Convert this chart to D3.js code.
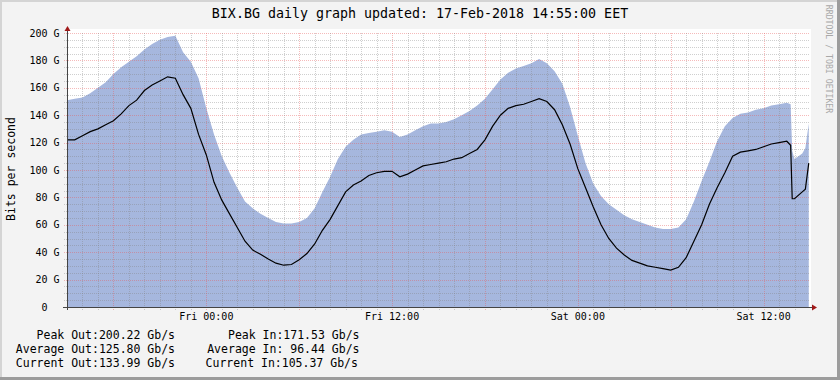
<!DOCTYPE html>
<html><head><meta charset="utf-8">
<script src="https://cdn.jsdelivr.net/npm/d3@7"></script>
<style>
html,body{margin:0;padding:0;background:#f3f3f3;overflow:hidden;}
svg{display:block;}
text{font-family:"DejaVu Sans Mono",monospace;white-space:pre;}
</style></head><body>
<svg id="c" width="840" height="380"></svg>
<script>
// hours since Thu 15:00
const hours = [0,0.5,1,1.5,2,2.5,3,3.5,4,4.5,5,5.5,6,6.5,7,7.5,8,8.5,9,9.5,10,10.5,11,11.5,12,12.5,13,13.5,14,14.5,15,15.5,16,16.5,17,17.5,18,18.5,19,19.5,20,20.5,21,21.5,22,22.5,23,23.5,24,24.5,25,25.5,26,26.5,27,27.5,28,28.5,29,29.5,30,30.5,31,31.5,32,32.5,33,33.5,34,34.5,35,35.5,36,36.5,37,37.5,38,38.5,39,39.5,40,40.5,41,41.5,42,42.5,43,43.5,44,44.5,45,45.5,46,46.5,46.75,46.85,47,47.5,47.7,47.92];
// Out traffic (area), Gb/s
const outG = [151,152,153,156,160,164,170,175,179,183,188,192,195,197,198,186,179,167,145,126,110,98,87,77,72,68,65,62,61,61,62,65,72,84,95,108,117,122,126,127,128,129,128,124,126,129,132,134,134,135,137,140,143,147,152,159,166,171,174,176,178,181,178,172,163,146,125,105,90,81,75,71,67,64,62,60,58,57,57,58,64,77,92,106,121,132,138,141,142,144,145,147,148,149,148,114,108,112,116,134];
// In traffic (line), Gb/s
const inG = [122,122,125,128,130,133,136,141,147,151,158,162,165,168,167,155,145,126,111,91,78,68,58,48,41.5,38.5,35,32,30.5,31,34.5,39,46,56,64,74,84,89,92,96,98,99,99,95,97,100,103,104,105,106,108,109,112,115,122,132,140,145,147,148,150,152,150,144,133,119,101,87,73,60,50,43,38,34,32,30,29,28,27,29,36,48,60,75,87,98,110,113,114,115,117,119,120,121,118,79,79,84,86,105];

const yTickValues = [0,20,40,60,80,100,120,140,160,180,200];
const yTickLabels = ["0  ","20 G","40 G","60 G","80 G","100 G","120 G","140 G","160 G","180 G","200 G"];
const xLabelHours = [9,21,33,45];
const xLabels = ["Fri 00:00","Fri 12:00","Sat 00:00","Sat 12:00"];
const statNames = ["   Peak","Average","Current"];
const outStats = ["200.22","125.80","133.99"];
const inStats = ["171.53"," 96.44","105.37"];
const title = "BIX.BG daily graph updated: 17-Feb-2018 14:55:00 EET";
const yTitle = "Bits per second";
const watermark = "RRDTOOL / TOBI OETIKER";

const svg = d3.select("#c");
const W = 840, H = 380;
const x = d3.scaleLinear().domain([0,48]).range([67,810]);
const y = d3.scaleLinear().domain([0,200]).range([307,33]);

// background + shade
svg.append("rect").attr("width",W).attr("height",H).attr("fill","#f3f3f3");
svg.append("rect").attr("x",0).attr("y",0).attr("width",W).attr("height",2).attr("fill","#d4d4d4");
svg.append("rect").attr("x",0).attr("y",0).attr("width",2).attr("height",H).attr("fill","#d4d4d4");
svg.append("rect").attr("x",W-3).attr("y",0).attr("width",3).attr("height",H).attr("fill","#9c9c9c");
svg.append("rect").attr("x",0).attr("y",H-3).attr("width",W).attr("height",3).attr("fill","#9c9c9c");

// canvas
svg.append("rect").attr("x",x(0)).attr("y",29).attr("width",x(48)-x(0)+1).attr("height",y(0)-29).attr("fill","#ffffff");

// area
const area = d3.area().x((d,i)=>x(hours[i])).y0(y(0)).y1(d=>y(d)).curve(d3.curveLinear);
svg.append("path").datum(outG).attr("d",area).attr("fill","#a6b7de");

// grid
const g = svg.append("g").attr("shape-rendering","crispEdges");
const minorCol = "rgba(130,130,130,0.38)", majorCol = "rgba(230,90,90,0.42)";
for (let v=5; v<=200; v+=5){
  const major = v%20===0;
  const yy = Math.round(y(v))+0.5;
  g.append("line").attr("x1",x(0)-3).attr("x2",x(48)).attr("y1",yy).attr("y2",yy)
   .attr("stroke", major?majorCol:minorCol).attr("stroke-dasharray","1,1");
}
for (let h=1; h<48; h++){
  const major = (h-3)%6===0;
  const xx = Math.round(x(h))+0.5;
  g.append("line").attr("x1",xx).attr("x2",xx).attr("y1",y(200)).attr("y2",y(0)+3)
   .attr("stroke", major?majorCol:minorCol).attr("stroke-dasharray","1,1");
}

// in line
const line = d3.line().x((d,i)=>x(hours[i])).y(d=>y(d)).curve(d3.curveLinear);
svg.append("path").datum(inG).attr("d",line).attr("fill","none").attr("stroke","#000").attr("stroke-width",1.2);

// axes
const ax = svg.append("g").attr("shape-rendering","crispEdges");
ax.append("line").attr("x1",63).attr("x2",813).attr("y1",307.5).attr("y2",307.5).attr("stroke","#444");
ax.append("line").attr("x1",67.5).attr("x2",67.5).attr("y1",310).attr("y2",30).attr("stroke","#444");
svg.append("path").attr("d","M64.5,31 L70.5,31 L67.5,26 Z").attr("fill","#a01818");
svg.append("path").attr("d","M812,304.5 L812,310.5 L817,307.5 Z").attr("fill","#a01818");

// y labels
svg.append("g").selectAll("text").data(yTickValues).join("text")
  .attr("x",59.5).attr("y",d=>y(d)+3.6).attr("text-anchor","end")
  .attr("font-size","10px").attr("fill","#000").text((d,i)=>yTickLabels[i]);
// x labels
svg.append("g").selectAll("text").data(xLabelHours).join("text")
  .attr("x",d=>x(d)).attr("y",320).attr("text-anchor","middle")
  .attr("font-size","10px").attr("fill","#000").text((d,i)=>xLabels[i]);

// title
svg.append("text").attr("x",420).attr("y",18.4).attr("text-anchor","middle")
  .attr("font-size","13.3px").attr("fill","#000").text(title);
// y title
svg.append("text").attr("transform","translate(14.5,169) rotate(-90)").attr("text-anchor","middle")
  .attr("font-size","11.5px").attr("fill","#000").text(yTitle);
// watermark
svg.append("text").attr("transform","translate(826,59) rotate(90)").attr("text-anchor","middle")
  .attr("font-size","8.2px").attr("fill","#a8a8a8").text(watermark);

// legend
const ly = [339.3,353.3,367.3];
statNames.forEach((n,i)=>{
  svg.append("text").attr("x",15.8).attr("y",ly[i]).attr("font-size","11.5px").attr("fill","#000")
    .text(n+" Out:"+outStats[i]+" Gb/s");
  svg.append("text").attr("x",i===2?205.6:207.2).attr("y",ly[i]).attr("font-size","11.5px").attr("fill","#000")
    .text(n+" In:"+inStats[i]+" Gb/s");
});
</script>
</body></html>
